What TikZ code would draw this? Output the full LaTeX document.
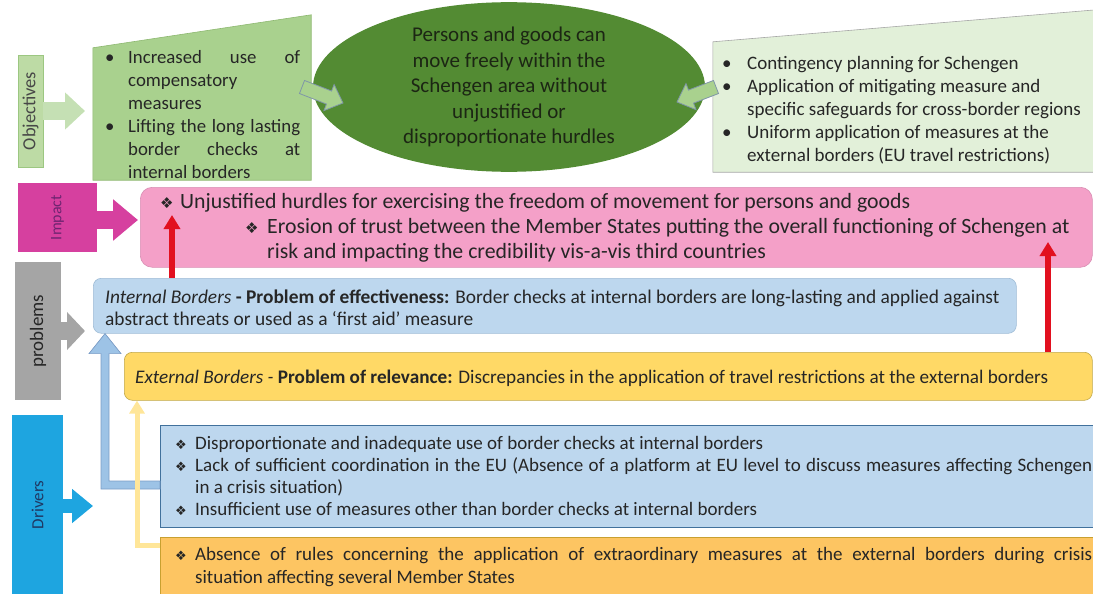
\documentclass[tikz,border=0pt]{standalone}
\usepackage{fontspec}
\setmainfont{Carlito}
\newfontfamily\dejavu{DejaVu Sans}
\usetikzlibrary{calc,arrows.meta,shapes.geometric}
\definecolor{ink}{HTML}{262626}
\definecolor{objlabf}{HTML}{BDDBA5}
\definecolor{objlabd}{HTML}{9CC781}
\definecolor{objarr}{HTML}{C5E0B4}
\definecolor{objLf}{HTML}{A9D18E}
\definecolor{objLd}{HTML}{8DB870}
\definecolor{objRf}{HTML}{E2F0D9}
\definecolor{objRd}{HTML}{A6A6A6}
\definecolor{ellg}{HTML}{538B33}
\definecolor{ellt}{HTML}{1C2614}
\definecolor{arrb}{HTML}{7F96A8}
\definecolor{implab}{HTML}{D6409F}
\definecolor{impt}{HTML}{6E2470}
\definecolor{pinkf}{HTML}{F4A0C8}
\definecolor{pinkd}{HTML}{D98FB4}
\definecolor{grayl}{HTML}{A5A5A5}
\definecolor{bluef}{HTML}{BDD7EE}
\definecolor{blued}{HTML}{9FBCD6}
\definecolor{bluedd}{HTML}{41719C}
\definecolor{yelf}{HTML}{FFD966}
\definecolor{yeld}{HTML}{C0A84A}
\definecolor{orf}{HTML}{FDC562}
\definecolor{ord}{HTML}{C8A030}
\definecolor{drvlab}{HTML}{1EA5E0}
\definecolor{navy}{HTML}{1F3864}
\definecolor{redarr}{HTML}{E2101F}
\definecolor{barr}{HTML}{9DC3E6}
\definecolor{barrd}{HTML}{7A9CC6}
\definecolor{yarr}{HTML}{FFE699}
\newcommand\fs[2]{\fontsize{#1pt}{#2pt}\selectfont}
\newcommand\dia{{\dejavu\fontsize{13pt}{13pt}\selectfont ❖}}
\newcommand\bigdia{{\dejavu\fontsize{15pt}{15pt}\selectfont ❖}}
\newcommand\ellarrow[3]{%
  \coordinate (#3m) at ($(#2)!15pt!(#1)$);
  \filldraw[fill=objLf, draw=arrb, line width=0.8pt]
    ($(#1)!7pt!90:(#2)$) -- ($(#3m)!7pt!90:(#2)$) -- ($(#3m)!14pt!90:(#2)$) -- (#2)
    -- ($(#3m)!14pt!-90:(#2)$) -- ($(#3m)!7pt!-90:(#2)$) -- ($(#1)!7pt!-90:(#2)$) -- cycle;}
\begin{document}
\begin{tikzpicture}[x=1pt,y=-1pt,
  txt/.style={inner sep=0pt, align=left, text=ink, anchor=west},
  labbox/.style={inner sep=0pt, text=ink},
  boxnode/.style={inner sep=0pt, anchor=north west},
  redline/.style={draw=redarr, line width=6pt, -{Triangle[length=14pt,width=16pt]}}]
\useasboundingbox (0,0) rectangle (1093,594);

% ---------- labels ----------
\node[labbox, fill=objlabf, draw=objlabd, minimum width=25pt, minimum height=112pt, text=ink!85] (objlab) at (30.5,111) {\rotatebox{90}{\fs{18.5}{20}Objectives}};
\node[labbox, fill=implab, minimum width=79pt, minimum height=69pt, text=impt] (implab) at (57.5,217.5) {\rotatebox{90}{\fs{16}{18}Impact}};
\node[labbox, fill=grayl, minimum width=46pt, minimum height=138pt] (problab) at (38,331) {\rotatebox{90}{\fs{19}{21}problems}};
\node[labbox, fill=drvlab, minimum width=51pt, minimum height=180pt, text=navy] (drvlab) at (37.5,505) {\rotatebox{90}{\fs{17}{19}Drivers}};

% ---------- objectives ----------
\node[minimum width=218pt, minimum height=132pt, inner sep=0pt] (objL) at (202,114) {};
\filldraw[fill=objLf, draw=objLd, line width=0.6pt] (objL.south west) -- (objL.south east) -- ($(objL.north east)+(0,-33)$) -- (objL.north west) -- cycle;
\node[txt, font=\fs{18.8}{23}] (objLT) at (105,115) {%
\makebox[23pt][l]{•}\makebox[172pt][s]{Increased use of}\\
\hspace*{23pt}compensatory\\
\hspace*{23pt}measures\\
\makebox[23pt][l]{•}\makebox[172pt][s]{Lifting the long lasting}\\
\hspace*{23pt}\makebox[172pt][s]{border checks at}\\
\hspace*{23pt}internal borders};

\node[minimum width=383pt, minimum height=130pt, inner sep=0pt] (objR) at (904.5,107) {};
\filldraw[fill=objRf, draw=objRd, line width=0.6pt] (objR.south west) -- (objR.south east) -- ($(objR.north east)+(0,-32)$) -- (objR.north west) -- cycle;
\node[txt, font=\fs{19}{23}] (objRT) at (722,110) {%
\makebox[25pt][l]{•}Contingency planning for Schengen\\
\makebox[25pt][l]{•}Application of mitigating measure and\\
\hspace*{25pt}specific safeguards for cross-border regions\\
\makebox[25pt][l]{•}Uniform application of measures at the\\
\hspace*{25pt}external borders (EU travel restrictions)};

\node[ellipse, fill=ellg, minimum width=392pt, minimum height=158pt, inner sep=0pt, align=center, text=ellt, font=\fs{21}{25.5}] (goal) at (509,87) {Persons and goods can\\move freely within the\\Schengen area without\\unjustified or\\disproportionate hurdles};

\coordinate (la1) at (302,87);
\coordinate (la2) at (343,103);
\ellarrow{la1}{la2}{lam}
\coordinate (ra1) at (716,87);
\coordinate (ra2) at (677,102);
\ellarrow{ra1}{ra2}{ram}

% ---------- impact ----------
\node[boxnode, rounded corners=12pt, fill=pinkf, draw=pinkd, line width=0.6pt, minimum width=952pt, minimum height=80pt] (imp) at (140,187) {};
\node[txt, font=\fs{21.8}{25}] (impT) at (160,228) {%
\makebox[20pt][l]{\bigdia}Unjustified hurdles for exercising the freedom of movement for persons and goods\\
\hspace*{85pt}\makebox[22pt][l]{\bigdia}Erosion of trust between the Member States putting the overall functioning of Schengen at\\
\hspace*{107pt}risk and impacting the credibility vis-a-vis third countries};

% ---------- problems ----------
\node[boxnode, rounded corners=8pt, fill=bluef, draw=blued, line width=0.6pt, minimum width=923pt, minimum height=55pt] (intB) at (93,278) {};
\node[txt, font=\fs{19.4}{22}] (intT) at (105,308) {%
\textit{Internal Borders} \textbf{- Problem of effectiveness:} Border checks at internal borders are long-lasting and applied against\\
abstract threats or used as a ‘first aid’ measure};

\node[boxnode, rounded corners=8pt, fill=yelf, draw=yeld, line width=0.6pt, minimum width=968pt, minimum height=48pt] (extB) at (124,352) {};
\node[txt, font=\fs{19.2}{22}] (extT) at (135,378) {%
\textit{External Borders - }\textbf{Problem of relevance:} Discrepancies in the application of travel restrictions at the external borders};

% ---------- drivers ----------
\node[boxnode, fill=bluef, draw=bluedd, line width=0.6pt, minimum width=934pt, minimum height=102pt] (drvB) at (160,425) {};
\node[txt, font=\fs{19}{22}] (drvBT) at (175,476) {%
\makebox[20pt][l]{\dia}Disproportionate and inadequate use of border checks at internal borders\\
\makebox[20pt][l]{\dia}\makebox[897pt][s]{Lack of sufficient coordination in the EU (Absence of a platform at EU level to discuss measures affecting Schengen}\\
\hspace*{20pt}in a crisis situation)\\
\makebox[20pt][l]{\dia}Insufficient use of measures other than border checks at internal borders};

\node[boxnode, fill=orf, draw=ord, line width=0.6pt, minimum width=934pt, minimum height=62pt] (drvO) at (160,537) {};
\node[txt, font=\fs{19}{23}] (drvOT) at (175,567.5) {%
\makebox[20pt][l]{\dia}\makebox[897pt][s]{Absence of rules concerning the application of extraordinary measures at the external borders during crisis}\\
\hspace*{20pt}situation affecting several Member States};

% ---------- label arrows ----------
\coordinate (objtip) at (85,111);
\draw[line width=18pt, draw=objarr, -{Triangle[length=20pt,width=36pt]}] (objlab.east) -- (objtip);
\coordinate (imptip) at (138,220);
\draw[line width=18pt, draw=implab, -{Triangle[length=25pt,width=40pt]}] (implab.east |- imptip) -- (imptip);
\coordinate (probtip) at (85,331);
\draw[line width=18pt, draw=grayl, -{Triangle[length=18pt,width=37pt]}] (problab.east) -- (probtip);
\coordinate (drvtip) at (93,506);
\draw[line width=14pt, draw=drvlab, -{Triangle[length=21pt,width=33pt]}] (drvlab.east |- drvtip) -- (drvtip);

% ---------- elbows ----------
\coordinate (bs) at ($(drvB.north west)+(0,60)$);
\coordinate (bt) at ($(intB.south west)+(12,0)$);
\filldraw[fill=barr, draw=barrd, line width=0.7pt]
  ($(bs)+(0,-4)$) -- ($(bt|-bs)+(4,-4)$) -- ($(bt)+(4,20)$) -- ($(bt)+(16,20)$) -- (bt)
  -- ($(bt)+(-16,20)$) -- ($(bt)+(-4,20)$) -- ($(bt|-bs)+(-4,4)$) -- ($(bs)+(0,4)$) -- cycle;
\coordinate (ys) at ($(drvO.north west)+(0,8)$);
\coordinate (yt) at ($(extB.south west)+(13,0)$);
\draw[draw=yarr, line width=5pt, -{Triangle[length=13pt,width=15pt]}] (ys) -| (yt);

% ---------- red arrows ----------
\coordinate (r1s) at ($(intB.north west)+(79,0)$);
\coordinate (r1e) at (172,215);
\draw[redline] (r1s) -- (r1e);
\coordinate (r2s) at ($(extB.north west)+(924,0)$);
\coordinate (r2e) at (1048,242);
\draw[redline] (r2s) -- (r2e);
\end{tikzpicture}
\end{document}
